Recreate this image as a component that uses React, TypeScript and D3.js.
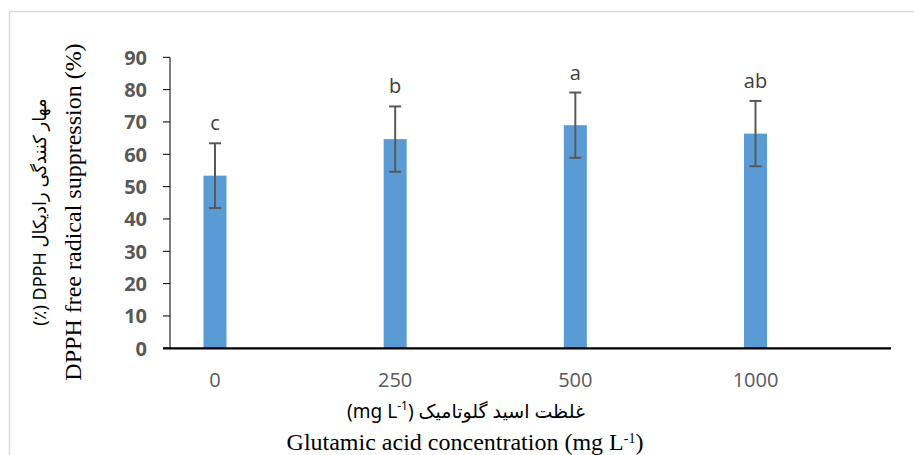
import React from 'react';
import * as d3 from 'd3';

// glutamic acid doses (mg L-1)
const doses = ['0', '250', '500', '1000'];
// DPPH free radical suppression (%)
const means = [53.4, 64.7, 69.0, 66.4];
const errors = [10.0, 10.1, 10.1, 10.1];
const letters = ['c', 'b', 'a', 'ab'];
const yTicks = [0, 10, 20, 30, 40, 50, 60, 70, 80, 90];

const W = 914;
const H = 455;

const App = () => {
  const y = d3.scaleLinear().domain([0, 90]).range([348.3, 57.3]);
  const x = d3.scalePoint().domain(doses).range([215, 755.5]);
  const barW = 23;
  const capW = 12;
  const axisLeft = 170;
  const axisRight = 891;

  return (
    <svg width={W} height={H} style={{ position: 'absolute', left: 0, top: 0, background: '#fff' }}>
      {/* outer frame */}
      <path d={`M9.5,${H} V11.5 H${W}`} fill="none" stroke="#d9d9d9" strokeWidth={1.5} />

      {/* y axis */}
      <line x1={axisLeft} x2={axisLeft} y1={y(90)} y2={y(0)} stroke="#000" strokeWidth={1} />
      {yTicks.map(t => (
        <g key={t}>
          <line x1={axisLeft - 7} x2={axisLeft} y1={y(t)} y2={y(t)} stroke="#000" strokeWidth={1} />
          <text
            x={147}
            y={y(t)}
            dy="0.36em"
            textAnchor="end"
            fontFamily="'Open Sans', sans-serif"
            fontWeight="bold"
            fontSize={20}
            fill="#595959"
          >
            {t}
          </text>
        </g>
      ))}

      {/* bars */}
      {doses.map((d, i) => (
        <rect
          key={d}
          x={(x(d) as number) - barW / 2}
          y={y(means[i])}
          width={barW}
          height={y(0) - y(means[i])}
          fill="#5b9bd5"
        />
      ))}

      {/* error bars */}
      {doses.map((d, i) => {
        const cx = x(d) as number;
        const top = y(means[i] + errors[i]);
        const bot = y(means[i] - errors[i]);
        return (
          <g key={d} stroke="#595959" strokeWidth={2}>
            <line x1={cx} x2={cx} y1={top} y2={bot} />
            <line x1={cx - capW / 2} x2={cx + capW / 2} y1={top} y2={top} />
            <line x1={cx - capW / 2} x2={cx + capW / 2} y1={bot} y2={bot} />
          </g>
        );
      })}

      {/* significance letters */}
      {doses.map((d, i) => (
        <text
          key={d}
          x={x(d) as number}
          y={y(means[i] + errors[i]) - 13}
          textAnchor="middle"
          fontFamily="'Open Sans', sans-serif"
          fontSize={20}
          fill="#404040"
        >
          {letters[i]}
        </text>
      ))}

      {/* x axis */}
      <line x1={axisLeft - 7} x2={axisRight} y1={y(0)} y2={y(0)} stroke="#000" strokeWidth={2.2} />
      {doses.map(d => (
        <text
          key={d}
          x={x(d) as number}
          y={387}
          textAnchor="middle"
          fontFamily="'Open Sans', sans-serif"
          fontSize={20}
          fill="#595959"
        >
          {d}
        </text>
      ))}

      {/* x titles */}
      <text
        x={466}
        y={418}
        textAnchor="middle"
        fontFamily="'Noto Sans', 'DejaVu Sans', sans-serif"
        fontSize={19}
        fill="#000"
        style={{ direction: 'rtl', unicodeBidi: 'embed' }}
      >
        غلظت اسید گلوتامیک (mg L<tspan baselineShift="super" fontSize={12}>-1</tspan>)
      </text>
      <text
        x={465}
        y={450}
        textAnchor="middle"
        fontFamily="'Liberation Serif', 'Times New Roman', serif"
        fontSize={24}
        fill="#000"
      >
        Glutamic acid concentration (mg L<tspan baselineShift="super" fontSize={14}>-1</tspan>)
      </text>

      {/* y titles */}
      <text
        transform="translate(46,212) rotate(-90)"
        textAnchor="middle"
        fontFamily="'Noto Sans', 'DejaVu Sans', sans-serif"
        fontSize={18}
        fill="#000"
        style={{ direction: 'rtl', unicodeBidi: 'embed' }}
      >
        مهار کنندگی رادیکال DPPH (٪)
      </text>
      <text
        transform="translate(81,212) rotate(-90)"
        textAnchor="middle"
        fontFamily="'Liberation Serif', 'Times New Roman', serif"
        fontSize={24}
        fill="#000"
      >
        DPPH free radical suppression (%)
      </text>
    </svg>
  );
};

export default App;
